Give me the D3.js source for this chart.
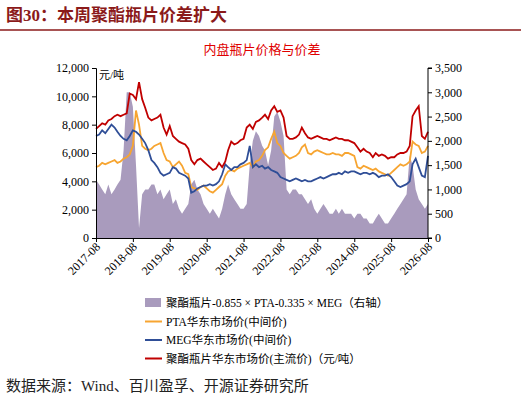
<!DOCTYPE html>
<html><head><meta charset="utf-8">
<script src="https://cdn.jsdelivr.net/npm/d3@7"></script>
<style>body{margin:0;background:#fff}text{font-family:"Liberation Serif","Noto Sans CJK SC",serif}</style>
</head><body><svg id="c" width="521" height="406"></svg>
<script>
const startMonth = "2017-08";
const xTicks = ["2017-08","2018-08","2019-08","2020-08","2021-08","2022-08","2023-08","2024-08","2025-08","2026-08"];
const chip = [7700,7900,8100,8000,8300,
 8400,8600,8700,8600,8700,8800,10200,10100,9800,11000,9800,9200,
 8500,8300,8400,8500,8700,7800,7300,7900,7200,7000,6800,6700,
 6600,6300,5500,5200,5500,5600,5400,5200,5000,4800,4900,5300,
 5000,5400,6200,6800,6600,6700,6900,7000,7800,8000,7700,8200,
 8300,8500,8700,8400,9000,9300,8900,9000,8500,7200,7000,7000,
 7100,7300,7800,7400,7100,7000,7100,7200,7100,7000,7000,6900,
 7000,7100,7000,7000,6900,6900,6800,6700,6400,6100,6300,6100,
 6000,5700,6000,5800,5900,5800,5600,5700,5700,5900,6000,6000,
 6100,6500,8600,9000,9300,7200,7000,7500];
const pta = [5000,5100,5300,5200,5300,
 5400,5500,5300,5400,5600,5700,5900,6500,9000,8000,6500,6300,
 6200,6300,6500,6600,6700,6000,5500,5400,5000,5200,5400,5100,
 4600,4500,3600,3500,3400,3600,3700,3500,3300,3200,3400,3600,
 3800,4400,4700,4800,4700,4900,5000,5100,5200,5300,5000,5400,
 5500,5800,6200,6400,7000,7500,6700,6500,6000,5800,5600,5700,
 5800,6000,6400,6600,6000,5900,6100,6200,6100,6000,5900,5900,
 6000,5900,5900,5800,6000,6000,5900,5800,5000,4900,5100,5000,
 4900,4800,4900,4700,4600,4500,4400,4600,4800,5000,5200,5100,
 5200,5400,6800,6600,6500,6000,6100,6500];
const meg = [7200,7300,7600,7400,7700,
 8000,7800,7500,7200,7000,6900,7200,7600,7500,7300,7000,6700,
 6200,5500,5300,5000,4600,4400,4500,4600,5000,4900,4600,4500,
 4400,4200,3200,3300,3500,3600,3700,3700,3800,3700,3800,4000,
 4500,5200,5000,4800,5000,5000,5200,5300,5500,6500,5000,5200,
 5000,5100,4900,5000,4800,4700,4600,4300,4200,4100,4000,4100,
 4200,4100,4000,4100,4000,4000,4100,4200,4300,4200,4300,4400,
 4500,4500,4600,4500,4700,4600,4700,4700,4600,4500,4600,4600,
 4500,4600,4500,4300,4400,4400,4500,4300,4000,3700,3600,3700,
 3800,4000,5200,5600,5000,4400,4300,5800];
const spread = [1200,1100,1000,900,1100,
 900,1000,1100,1200,1800,3000,3000,2700,1500,200,900,1000,
 1000,1100,1100,900,1000,800,900,1000,700,800,600,500,
 600,700,1100,1200,1000,900,700,600,500,600,500,400,
 600,900,1100,900,800,700,600,600,700,1500,2000,2200,
 2100,1900,1800,1500,1800,2500,2600,2400,2100,1000,900,1000,
 1000,900,900,800,700,800,600,500,600,700,600,500,
 500,600,500,600,500,500,500,400,500,500,400,400,
 300,300,400,500,400,300,300,400,500,600,700,800,
 900,1700,1500,1000,800,700,600,700];
const legendLabels = ["聚酯瓶片-0.855 × PTA-0.335 × MEG（右轴）","PTA华东市场价(中间价)","MEG华东市场价(中间价)","聚酯瓶片华东市场价(主流价)（元/吨）"];
const colors = ["#a99bbd","#f7a531","#2f4e97","#c00000"];

const parse = d3.timeParse("%Y-%m");
const t0 = parse(startMonth);
const dates = chip.map((_, i) => d3.timeMonth.offset(t0, i));

const svg = d3.select("#c");
const L = 96, R = 428, T = 68, B = 238;
const x = d3.scaleTime().domain([t0, parse("2026-08")]).range([L, R]);
const yL = d3.scaleLinear().domain([0, 12000]).range([B, T]);
const yR = d3.scaleLinear().domain([0, 3500]).range([B, T]);

// 标题
svg.append("text").attr("x", 6).attr("y", 21).attr("font-size", 17).attr("font-weight", "bold")
  .attr("fill", "#8b1a1a").text("图30：本周聚酯瓶片价差扩大");
svg.append("line").attr("x1", 0).attr("x2", 521).attr("y1", 30).attr("y2", 30)
  .attr("stroke", "#8b1a1a").attr("stroke-width", 1.5);
svg.append("text").attr("x", 262).attr("y", 54).attr("text-anchor", "middle").attr("font-size", 13)
  .attr("fill", "#e00000").text("内盘瓶片价格与价差");

// 面积
svg.append("path").datum(spread)
  .attr("d", d3.area().x((d, i) => x(dates[i])).y0(B).y1(d => yR(d)))
  .attr("fill", colors[0]);

const line = d3.line().x((d, i) => x(dates[i])).y(d => yL(d));
[[pta, colors[1]], [meg, colors[2]], [chip, colors[3]]].forEach(([s, c]) => {
  svg.append("path").datum(s).attr("d", line).attr("fill", "none")
    .attr("stroke", c).attr("stroke-width", 1.8);
});

// 坐标轴
const ga = svg.append("g").attr("transform", `translate(${L},0)`)
  .call(d3.axisLeft(yL).tickValues(d3.range(0, 12001, 2000)).tickFormat(d3.format(",")).tickSize(4));
const gr = svg.append("g").attr("transform", `translate(${R},0)`)
  .call(d3.axisRight(yR).tickValues(d3.range(0, 3501, 500)).tickFormat(d3.format(",")).tickSize(4));
const gx = svg.append("g").attr("transform", `translate(0,${B})`)
  .call(d3.axisBottom(x).tickValues(xTicks.map(parse)).tickFormat(d3.timeFormat("%Y-%m")).tickSize(4));
gx.selectAll("text").attr("text-anchor", "end").attr("transform", "translate(-3,2) rotate(-45)").attr("dy", "0.3em");
[ga, gr, gx].forEach(g => {
  g.selectAll("text").attr("font-size", 12).attr("fill", "#000");
  g.select(".domain").attr("stroke", "#000");
  g.selectAll("line").attr("stroke", "#000");
});
gr.select(".domain").attr("d", `M4,${B}H0V${T}H4`);
svg.append("text").attr("x", 99).attr("y", 79).attr("font-size", 11).text("元/吨");

// 图例
legendLabels.forEach((lab, i) => {
  const y = 303 + i * 18.5;
  if (i === 0) svg.append("rect").attr("x", 145).attr("y", y - 5).attr("width", 16).attr("height", 9).attr("fill", colors[0]);
  else svg.append("line").attr("x1", 145).attr("x2", 162).attr("y1", y).attr("y2", y)
    .attr("stroke", colors[i]).attr("stroke-width", 2);
  svg.append("text").attr("x", 166).attr("y", y + 4).attr("font-size", 11.5).text(lab);
});

svg.append("text").attr("x", 6).attr("y", 391).attr("font-size", 15).attr("fill", "#222")
  .text("数据来源：Wind、百川盈孚、开源证券研究所");
</script></body></html>
